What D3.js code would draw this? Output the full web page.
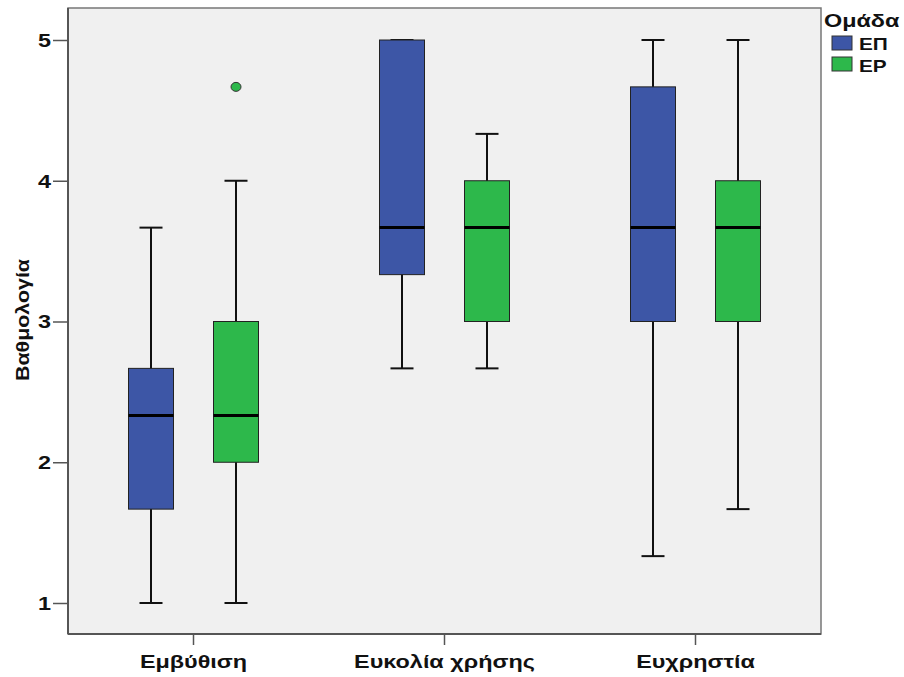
<!DOCTYPE html>
<html><head><meta charset="utf-8">
<script src="https://cdn.jsdelivr.net/npm/d3@7"></script>
<style>body{margin:0;background:#fff}svg{display:block}text{font-family:"Liberation Sans",Arial,sans-serif;font-weight:bold}</style>
</head><body>
<svg id="chart" width="904" height="677"></svg>
<script>
const categories = ["Εμβύθιση", "Ευκολία χρήσης", "Ευχρηστία"];
const groups = ["ΕΠ", "ΕΡ"];
const groupColors = ["#3d56a6", "#2db84b"];
// [whiskerLow, Q1, median, Q3, whiskerHigh] per category
const statsEP = [[1, 1.667, 2.333, 2.667, 3.667], [2.667, 3.333, 3.667, 5, 5], [1.333, 3, 3.667, 4.667, 5]];
const statsER = [[1, 2, 2.333, 3, 4], [2.667, 3, 3.667, 4, 4.333], [1.667, 3, 3.667, 4, 5]];
const outliersER = [[4.667], [], []];
const outliersEP = [[], [], []];
const yTicks = [1, 2, 3, 4, 5];
const yLabel = "Βαθμολογία";
const legendTitle = "Ομάδα";

const svg = d3.select("#chart");
const pL = 68, pR = 821, pT = 8, pB = 634;
const SX = 1.3; // horizontal text stretch seen in the reference
const x = d3.scaleBand().domain(categories).range([pL, pR]).padding(0);
const y = d3.scaleLinear().domain([1, 5]).range([603, 40]);
const offset = 42.5, boxW = 45, capW = 23;

svg.append("rect").attr("x", pL).attr("y", pT).attr("width", pR - pL).attr("height", pB - pT)
  .attr("fill", "#f0f0f0").attr("stroke", "#777").attr("stroke-width", 1.5);

const series = [statsEP, statsER];
const outs = [outliersEP, outliersER];
series.forEach((st, gi) => {
  categories.forEach((c, ci) => {
    const s = st[ci];
    const cx = x(c) + x.bandwidth() / 2 + (gi === 0 ? -offset : offset);
    const g = svg.append("g");
    g.append("line").attr("x1", cx).attr("x2", cx).attr("y1", y(s[0])).attr("y2", y(s[4]))
      .attr("stroke", "#111").attr("stroke-width", 2);
    [s[0], s[4]].forEach(v => g.append("line").attr("x1", cx - capW / 2).attr("x2", cx + capW / 2)
      .attr("y1", y(v)).attr("y2", y(v)).attr("stroke", "#111").attr("stroke-width", 2));
    g.append("rect").attr("x", cx - boxW / 2).attr("y", y(s[3])).attr("width", boxW).attr("height", y(s[1]) - y(s[3]))
      .attr("fill", groupColors[gi]).attr("stroke", "#222").attr("stroke-width", 1);
    g.append("line").attr("x1", cx - boxW / 2).attr("x2", cx + boxW / 2).attr("y1", y(s[2])).attr("y2", y(s[2]))
      .attr("stroke", "#000").attr("stroke-width", 3);
    outs[gi][ci].forEach(v => g.append("ellipse").attr("cx", cx).attr("cy", y(v)).attr("rx", 5).attr("ry", 4.5)
      .attr("fill", groupColors[gi]).attr("stroke", "#333").attr("stroke-width", 1));
  });
});

// axes
const yAxis = svg.append("g").attr("transform", `translate(${pL},0)`)
  .call(d3.axisLeft(y).tickValues(yTicks).tickFormat(d3.format("d")).tickSize(15).tickPadding(3));
yAxis.select(".domain").attr("d", `M0,${pT}V${pB}`).attr("stroke", "#555").attr("stroke-width", 2);
yAxis.selectAll(".tick line").attr("stroke", "#555").attr("stroke-width", 1.5);
yAxis.selectAll(".tick text").attr("font-size", 18).attr("fill", "#111").attr("font-weight", "bold")
  .attr("x", -17 / SX).attr("dy", "0.36em").attr("transform", `scale(${SX},1)`);

const xAxis = svg.append("g").attr("transform", `translate(0,${pB})`)
  .call(d3.axisBottom(x).tickSize(11).tickPadding(10));
xAxis.select(".domain").attr("d", `M${pL},0H${pR}`).attr("stroke", "#555").attr("stroke-width", 2);
xAxis.selectAll(".tick line").attr("stroke", "#555").attr("stroke-width", 1.5);
xAxis.selectAll(".tick text").attr("font-size", 18).attr("fill", "#111").attr("font-weight", "bold")
  .attr("transform", `scale(${SX},1)`);

svg.append("text").attr("transform", "translate(29,320) rotate(-90) scale(1.19,1)").attr("text-anchor", "middle")
  .attr("font-size", 18).attr("fill", "#111").text(yLabel);

// legend
const lg = svg.append("g");
lg.append("text").attr("transform", `translate(824,27) scale(${SX},1)`).attr("font-size", 18).attr("fill", "#111").text(legendTitle);
groups.forEach((gname, i) => {
  lg.append("rect").attr("x", 832).attr("y", 36 + i * 21).attr("width", 20).attr("height", 14)
    .attr("fill", groupColors[i]).attr("stroke", "#333").attr("stroke-width", 1);
  lg.append("text").attr("transform", `translate(859,${50 + i * 22}) scale(${SX},1)`).attr("font-size", 16)
    .attr("fill", "#111").text(gname);
});
</script>
</body></html>
